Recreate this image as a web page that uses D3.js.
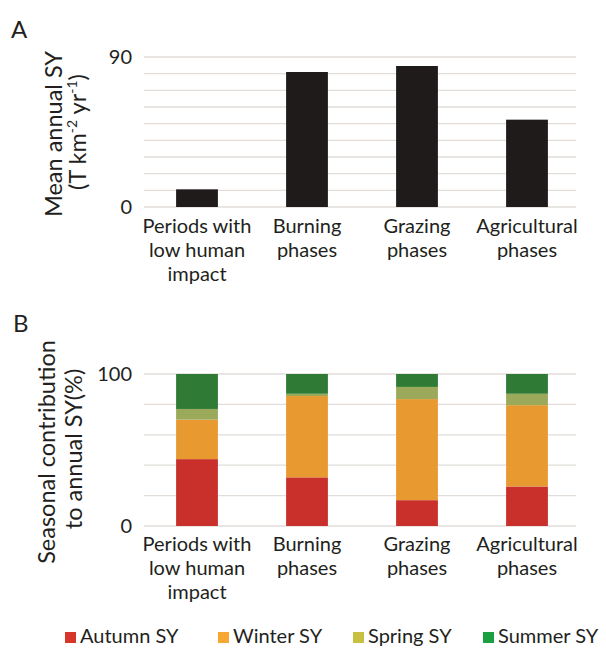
<!DOCTYPE html>
<html>
<head>
<meta charset="utf-8">
<script src="https://cdn.jsdelivr.net/npm/d3@7"></script>
<style>
  html, body { margin: 0; padding: 0; background: #fff; }
  svg text { font-family: Lato, "Open Sans", sans-serif; fill: #231f20; }
</style>
</head>
<body>
<svg id="chart" width="606" height="648"></svg>
<script>
// Categories and their wrapped axis labels
const categories = ["Periods with low human impact", "Burning phases", "Grazing phases", "Agricultural phases"];
const categoryLines = [["Periods with", "low human", "impact"], ["Burning", "phases"], ["Grazing", "phases"], ["Agricultural", "phases"]];

// Panel A: mean annual sediment yield (T km-2 yr-1)
const meanAnnualSY = [10.6, 81, 84.6, 52.4];

// Panel B: seasonal contribution to annual SY (%)
const seasons = ["Autumn SY", "Winter SY", "Spring SY", "Summer SY"];
const autumnSY = [44, 32, 17, 26];
const winterSY = [26, 53.5, 66.5, 53.5];
const springSY = [7, 1.5, 8, 7.5];
const summerSY = [23, 13, 8.5, 13];

const ticksA = [0, 90];
const ticksB = [0, 100];
const gridA = d3.range(0, 91, 10);
const gridB = d3.range(0, 101, 20);

const barColors = ["#c9302c", "#e89a30", "#9aaa5a", "#2f7b35"];
const legendColors = ["#d7372a", "#f7a833", "#c8c040", "#1aa040"];

const svg = d3.select("#chart");

const x = d3.scaleBand().domain(categories).range([142, 582]).paddingInner(0.62).paddingOuter(0.31);
const gridX0 = 144, gridX1 = 576;
const labelSize = 20;
const titleSize = 23.5;

function drawPanel(yScale, grid, ticks) {
  svg.append("g").selectAll("line").data(grid).join("line")
    .attr("x1", gridX0).attr("x2", gridX1)
    .attr("y1", d => yScale(d)).attr("y2", d => yScale(d))
    .attr("stroke", "#e2ddd8").attr("stroke-width", 1.3);
  const axis = d3.axisLeft(yScale).tickValues(ticks).tickSize(0).tickPadding(0);
  const ag = svg.append("g").attr("transform", "translate(132,0)").call(axis);
  ag.select(".domain").remove();
  ag.selectAll("text").attr("font-size", labelSize).attr("fill", "#231f20")
    .attr("font-family", "Lato, 'Open Sans', sans-serif");
}

// each wrapped line is its own text element
function drawCategoryLabels(top) {
  const g = svg.append("g");
  categories.forEach((c, i) => {
    const cx = x(c) + x.bandwidth() / 2;
    categoryLines[i].forEach((line, j) => {
      g.append("text").attr("text-anchor", "middle").attr("font-size", labelSize)
        .attr("x", cx).attr("y", top + j * 24).text(line);
    });
  });
}

// ---------- Panel A ----------
const yA = d3.scaleLinear().domain([0, 90]).range([207, 57]);
drawPanel(yA, gridA, ticksA);

svg.append("g").selectAll("rect").data(meanAnnualSY).join("rect")
  .attr("x", (d, i) => x(categories[i]))
  .attr("width", x.bandwidth())
  .attr("y", d => yA(d))
  .attr("height", d => yA(0) - yA(d))
  .attr("fill", "#1f1b1b");

drawCategoryLabels(233);

svg.append("text").attr("x", 11).attr("y", 38).attr("font-size", 24).text("A");

svg.append("text")
  .attr("transform", "translate(0,134) rotate(-90)")
  .attr("text-anchor", "middle")
  .attr("font-size", titleSize)
  .attr("y", 62).text("Mean annual SY");

const titleA2 = svg.append("text")
  .attr("transform", "translate(0,132) rotate(-90)")
  .attr("text-anchor", "middle")
  .attr("font-size", titleSize);
titleA2.append("tspan").attr("y", 86).text("(T km");
titleA2.append("tspan").attr("font-size", 14).attr("dy", -9).text("-2");
titleA2.append("tspan").attr("dy", 9).text(" yr");
titleA2.append("tspan").attr("font-size", 14).attr("dy", -9).text("-1");
titleA2.append("tspan").attr("dy", 9).text(")");

// ---------- Panel B ----------
const yB = d3.scaleLinear().domain([0, 100]).range([526, 374]);
drawPanel(yB, gridB, ticksB);

const seasonal = [autumnSY, winterSY, springSY, summerSY];
const table = categories.map((c, i) => {
  const row = { category: c };
  seasons.forEach((s, k) => { row[s] = seasonal[k][i]; });
  return row;
});
const stacked = d3.stack().keys(seasons)(table);

svg.append("g").selectAll("g").data(stacked).join("g")
  .attr("fill", (d, k) => barColors[k])
  .selectAll("rect").data(d => d).join("rect")
  .attr("x", d => x(d.data.category))
  .attr("width", x.bandwidth())
  .attr("y", d => yB(d[1]))
  .attr("height", d => yB(d[0]) - yB(d[1]));

drawCategoryLabels(551);

svg.append("text").attr("x", 13).attr("y", 332).attr("font-size", 24).text("B");

svg.append("text")
  .attr("transform", "translate(0,452) rotate(-90)")
  .attr("text-anchor", "middle")
  .attr("font-size", titleSize)
  .attr("y", 55).text("Seasonal contribution");
svg.append("text")
  .attr("transform", "translate(0,449) rotate(-90)")
  .attr("text-anchor", "middle")
  .attr("font-size", titleSize)
  .attr("y", 82).text("to annual SY(%)");

// ---------- Legend ----------
const legendX = [65, 218, 353, 483];
const legend = svg.append("g").selectAll("g").data(seasons).join("g")
  .attr("transform", (d, i) => `translate(${legendX[i]},632)`);
legend.append("rect").attr("width", 11).attr("height", 11).attr("fill", (d, i) => legendColors[i]);
legend.append("text").attr("x", 15).attr("y", 11).attr("font-size", 20).text(d => d);
</script>
</body>
</html>
